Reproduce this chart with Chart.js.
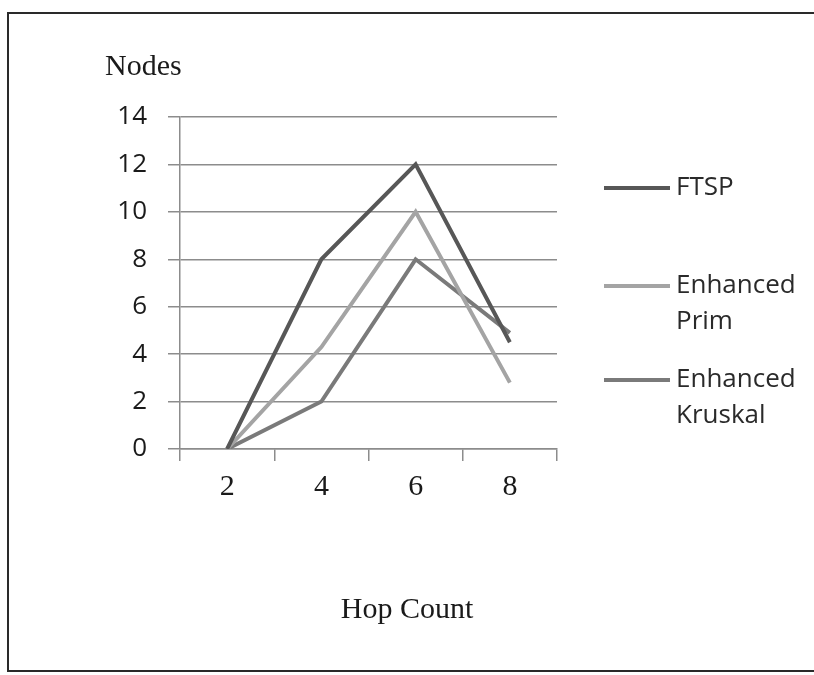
<!DOCTYPE html>
<html>
<head>
<meta charset="utf-8">
<script src="https://cdn.jsdelivr.net/npm/chart.js@4/dist/chart.umd.min.js"></script>
<style>
  html, body { margin: 0; padding: 0; background: #fff; }
  #wrap { position: relative; width: 814px; height: 675px; overflow: hidden; }
  #frame { position: absolute; left: 7px; top: 12px; width: 830px; height: 660px;
           border: 2px solid #2a2a2a; box-sizing: border-box; }
  canvas { position: absolute; left: 0; top: 0; }
</style>
</head>
<body>
<div id="wrap">
  <div id="frame"></div>
  <canvas id="chart" width="814" height="675"></canvas>
</div>
<script>
// hop count on x, nodes on y
const hopCounts = ['2', '4', '6', '8'];
const ftsp = [0, 8, 12, 4.5];
const enhancedPrim = [0, 4.3, 10, 2.8];
const enhancedKruskal = [0, 2, 8, 4.9];
const seriesNames = ['FTSP', ['Enhanced', 'Prim'], ['Enhanced', 'Kruskal']];
const yTicks = [0, 2, 4, 6, 8, 10, 12, 14];

const colors = ['#575757', '#a4a4a4', '#7a7a7a'];
const gridColor = '#8c8c8c';

// axis titles + legend drawn by hand, the way the original sits
const decorations = {
    id: 'decorations',
    afterDraw(chart) {
        const ctx = chart.ctx;
        ctx.save();
        ctx.fillStyle = '#1a1a1a';
        ctx.font = '30px "Liberation Serif"';
        ctx.textBaseline = 'alphabetic';
        ctx.textAlign = 'left';
        ctx.fillText('Nodes', 105, 75);
        ctx.textAlign = 'center';
        ctx.fillText('Hop Count', 407, 618);

        const rows = [188, 286, 380];
        ctx.font = '26px "Open Sans"';
        ctx.textAlign = 'left';
        ctx.textBaseline = 'middle';
        chart.data.datasets.forEach((ds, i) => {
            const y = rows[i];
            ctx.strokeStyle = ds.borderColor;
            ctx.lineWidth = 4;
            ctx.beginPath();
            ctx.moveTo(604, y);
            ctx.lineTo(670, y);
            ctx.stroke();
            const lines = Array.isArray(ds.label) ? ds.label : [ds.label];
            ctx.fillStyle = '#2a2a2a';
            lines.forEach((t, j) => ctx.fillText(t, 676, y + j * 36));
        });
        ctx.restore();
    }
};

new Chart(document.getElementById('chart'), {
    type: 'line',
    data: {
        labels: hopCounts,
        datasets: [
            { label: seriesNames[0], data: ftsp, borderColor: colors[0] },
            { label: seriesNames[1], data: enhancedPrim, borderColor: colors[1] },
            { label: seriesNames[2], data: enhancedKruskal, borderColor: colors[2] }
        ].map(d => Object.assign(d, { borderWidth: 4, pointRadius: 0, tension: 0, fill: false }))
    },
    options: {
        responsive: false,
        animation: false,
        layout: { padding: { left: 0, top: 117, right: 257, bottom: 0 } },
        plugins: { legend: { display: false }, tooltip: { enabled: false } },
        scales: {
            x: {
                offset: true,
                afterFit: (s) => { s.height = 226; },
                grid: { offset: true, drawOnChartArea: false, tickLength: 12, color: gridColor, lineWidth: 1.5 },
                border: { color: gridColor, width: 1.5 },
                ticks: { color: '#1a1a1a', padding: 8, font: { family: 'Liberation Serif', size: 30 } }
            },
            y: {
                min: 0,
                max: 14,
                afterFit: (s) => { s.width = 180; },
                afterBuildTicks: (s) => { s.ticks = yTicks.map(v => ({ value: v })); },
                grid: { tickLength: 12, color: gridColor, lineWidth: 1.5 },
                border: { color: gridColor, width: 1.5 },
                ticks: { color: '#1a1a1a', padding: 21, font: { family: 'Open Sans', size: 26 } }
            }
        }
    },
    plugins: [decorations]
});
</script>
</body>
</html>
